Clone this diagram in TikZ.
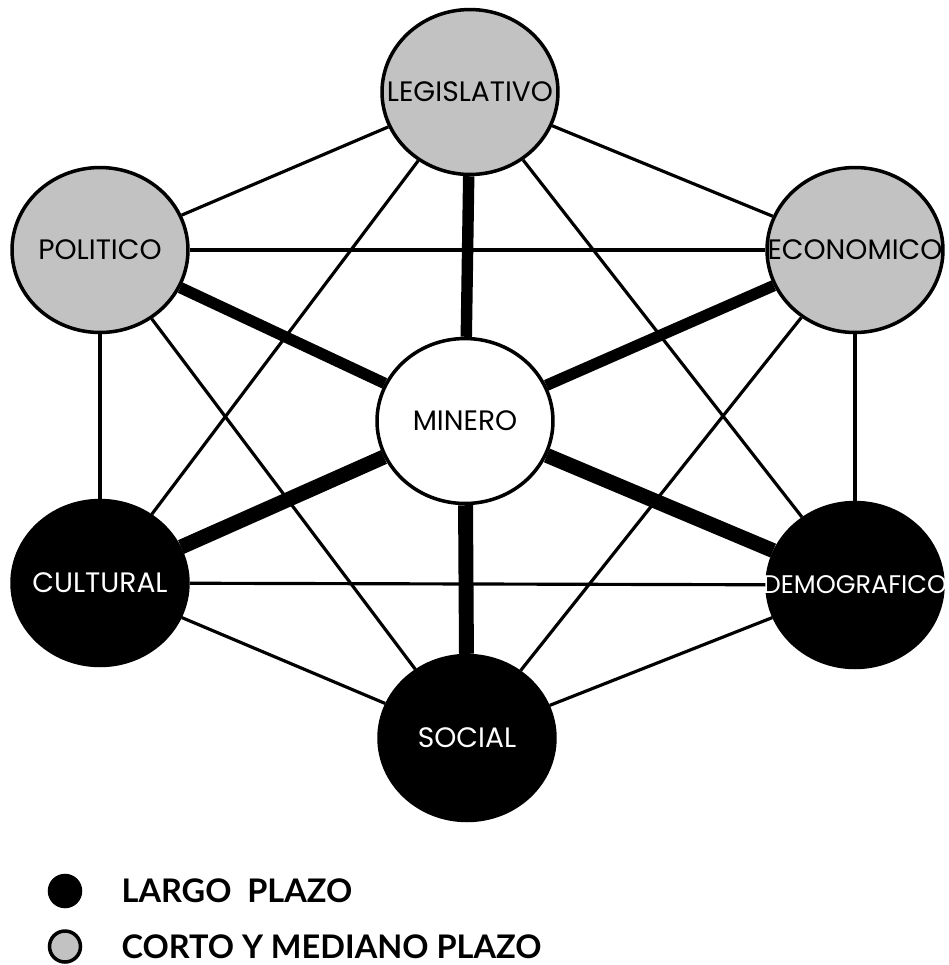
\documentclass[tikz,border=0pt]{standalone}
\usepackage{fontspec}
\newfontfamily\nodefont{Poppins}
\newfontfamily\legendfont{Lato}
\usetikzlibrary{positioning,shapes.geometric}

\begin{document}
\begin{tikzpicture}[x=0.02cm, y=-0.02cm,
  area/.style={draw, line width=2pt, ellipse, minimum width=3.52cm, minimum height=3.3cm, inner sep=0pt, font=\nodefont\fontsize{16}{18}\selectfont},
  shortterm/.style={area, fill=black!24},
  longterm/.style={area, fill=black, text=white},
  mine/.style={area, fill=white},
  link/.style={line width=1.8pt},
  spoke/.style={line width=6.5pt},
  legenddot/.style={circle, draw, line width=2pt, minimum size=0.62cm, inner sep=0pt},
  legendtext/.style={inner sep=0pt, font=\legendfont\bfseries\fontsize{18.5}{20}\selectfont}]
\useasboundingbox (0,0) rectangle (949,965);
\node[shortterm] (leg) at (470,92) {\makebox[0pt]{LEGISLATIVO}};
\node[shortterm] (pol) at (100,250) {\makebox[0pt]{POLITICO}};
\node[shortterm] (eco) at (855,250) {\makebox[0pt]{ECONOMICO}};
\node[mine] (min) at (465,421) {\makebox[0pt]{MINERO}};
\node[longterm] (cul) at (100,583) {\makebox[0pt]{CULTURAL}};
\node[longterm, font=\nodefont\fontsize{14.5}{16}\selectfont] (dem) at (855,585) {\makebox[0pt]{DEMOGRAFICO}};
\node[longterm] (soc) at (467,738) {\makebox[0pt]{SOCIAL}};
\draw[link] (leg) -- (eco);
\draw[link] (eco) -- (dem);
\draw[link] (dem) -- (soc);
\draw[link] (soc) -- (cul);
\draw[link] (cul) -- (pol);
\draw[link] (pol) -- (leg);
\draw[link] (leg) -- (dem);
\draw[link] (eco) -- (soc);
\draw[link] (dem) -- (cul);
\draw[link] (soc) -- (pol);
\draw[link] (cul) -- (leg);
\draw[link] (pol) -- (eco);
\foreach \n in {leg,pol,eco} \draw[spoke] (min) -- (\n);
\foreach \n in {cul,dem,soc} \draw[spoke, line width=8.5pt] (min) -- (\n);
\node[legenddot, fill=black] (dotlong) at (65,891) {};
\node[legendtext, right=0.78cm of dotlong] (txtlong) {LARGO\ \ PLAZO};
\node[legenddot, fill=black!24, below=0.42cm of dotlong] (dotshort) {};
\node[legendtext, right=0.78cm of dotshort] (txtshort) {CORTO Y MEDIANO PLAZO};
\end{tikzpicture}
\end{document}
